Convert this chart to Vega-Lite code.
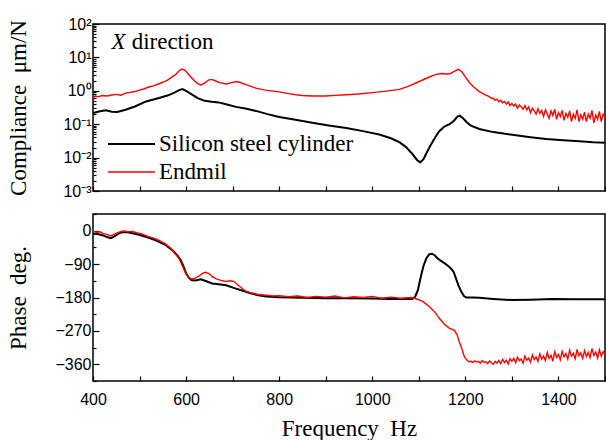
{
  "$schema": "https://vega.github.io/schema/vega-lite/v6.json",
  "padding": {"left": 6, "top": 15, "right": 0, "bottom": 0},
  "background": "white",
  "spacing": 12,
  "config": {
    "view": {"stroke": "black", "strokeWidth": 1.5},
    "axis": {"domain": false, "grid": false, "labelFlush": false, "labelFont": "Liberation Sans", "labelFontSize": 16, "labelColor": "black", "titleFont": "Liberation Serif", "titleFontSize": 23, "titleFontWeight": "normal", "titleColor": "black", "tickColor": "black", "tickWidth": 1.2},
    "legend": {"orient": "none", "legendX": 14, "legendY": 108, "symbolType": "stroke", "symbolSize": 2209, "symbolStrokeWidth": 2, "labelFont": "Liberation Serif", "labelFontSize": 23, "labelColor": "black", "labelLimit": 400, "labelOffset": 3, "clipHeight": 24, "rowPadding": 4, "padding": 0}
  },
  "datasets": {
    "mag": [
      {"f":400,"s":"Silicon steel cylinder","v":0.216},{"f":415,"s":"Silicon steel cylinder","v":0.245},{"f":428,"s":"Silicon steel cylinder","v":0.262},{"f":440,"s":"Silicon steel cylinder","v":0.235},{"f":452,"s":"Silicon steel cylinder","v":0.232},{"f":470,"s":"Silicon steel cylinder","v":0.27},{"f":490,"s":"Silicon steel cylinder","v":0.34},{"f":514,"s":"Silicon steel cylinder","v":0.48},{"f":540,"s":"Silicon steel cylinder","v":0.6},{"f":560,"s":"Silicon steel cylinder","v":0.72},{"f":575,"s":"Silicon steel cylinder","v":0.88},{"f":585,"s":"Silicon steel cylinder","v":1.05},{"f":592,"s":"Silicon steel cylinder","v":1.12},{"f":600,"s":"Silicon steel cylinder","v":1.0},{"f":612,"s":"Silicon steel cylinder","v":0.78},{"f":625,"s":"Silicon steel cylinder","v":0.6},{"f":640,"s":"Silicon steel cylinder","v":0.5},{"f":655,"s":"Silicon steel cylinder","v":0.47},{"f":670,"s":"Silicon steel cylinder","v":0.45},{"f":690,"s":"Silicon steel cylinder","v":0.38},{"f":707,"s":"Silicon steel cylinder","v":0.33},{"f":730,"s":"Silicon steel cylinder","v":0.29},{"f":750,"s":"Silicon steel cylinder","v":0.25},{"f":775,"s":"Silicon steel cylinder","v":0.2},{"f":800,"s":"Silicon steel cylinder","v":0.165},{"f":835,"s":"Silicon steel cylinder","v":0.135},{"f":871,"s":"Silicon steel cylinder","v":0.11},{"f":910,"s":"Silicon steel cylinder","v":0.09},{"f":944,"s":"Silicon steel cylinder","v":0.077},{"f":980,"s":"Silicon steel cylinder","v":0.062},{"f":1015,"s":"Silicon steel cylinder","v":0.049},{"f":1040,"s":"Silicon steel cylinder","v":0.038},{"f":1058,"s":"Silicon steel cylinder","v":0.029},{"f":1072,"s":"Silicon steel cylinder","v":0.021},{"f":1086,"s":"Silicon steel cylinder","v":0.013},{"f":1096,"s":"Silicon steel cylinder","v":0.0085},{"f":1103,"s":"Silicon steel cylinder","v":0.0072},{"f":1110,"s":"Silicon steel cylinder","v":0.009},{"f":1118,"s":"Silicon steel cylinder","v":0.015},{"f":1125,"s":"Silicon steel cylinder","v":0.023},{"f":1135,"s":"Silicon steel cylinder","v":0.04},{"f":1144,"s":"Silicon steel cylinder","v":0.062},{"f":1155,"s":"Silicon steel cylinder","v":0.085},{"f":1166,"s":"Silicon steel cylinder","v":0.1},{"f":1175,"s":"Silicon steel cylinder","v":0.125},{"f":1183,"s":"Silicon steel cylinder","v":0.17},{"f":1188,"s":"Silicon steel cylinder","v":0.18},{"f":1195,"s":"Silicon steel cylinder","v":0.15},{"f":1203,"s":"Silicon steel cylinder","v":0.115},{"f":1212,"s":"Silicon steel cylinder","v":0.09},{"f":1230,"s":"Silicon steel cylinder","v":0.072},{"f":1260,"s":"Silicon steel cylinder","v":0.058},{"f":1301,"s":"Silicon steel cylinder","v":0.048},{"f":1340,"s":"Silicon steel cylinder","v":0.041},{"f":1374,"s":"Silicon steel cylinder","v":0.036},{"f":1410,"s":"Silicon steel cylinder","v":0.033},{"f":1445,"s":"Silicon steel cylinder","v":0.031},{"f":1475,"s":"Silicon steel cylinder","v":0.029},{"f":1500,"s":"Silicon steel cylinder","v":0.028},
      {"f":400,"s":"Endmil","v":0.62},{"f":405,"s":"Endmil","v":0.7},{"f":410,"s":"Endmil","v":0.66},{"f":420,"s":"Endmil","v":0.72},{"f":430,"s":"Endmil","v":0.7},{"f":440,"s":"Endmil","v":0.75},{"f":450,"s":"Endmil","v":0.78},{"f":460,"s":"Endmil","v":0.74},{"f":470,"s":"Endmil","v":0.85},{"f":480,"s":"Endmil","v":0.9},{"f":490,"s":"Endmil","v":0.95},{"f":500,"s":"Endmil","v":1.05},{"f":510,"s":"Endmil","v":1.15},{"f":520,"s":"Endmil","v":1.3},{"f":530,"s":"Endmil","v":1.4},{"f":540,"s":"Endmil","v":1.6},{"f":550,"s":"Endmil","v":1.8},{"f":560,"s":"Endmil","v":2.1},{"f":570,"s":"Endmil","v":2.6},{"f":578,"s":"Endmil","v":3.1},{"f":585,"s":"Endmil","v":4.0},{"f":591,"s":"Endmil","v":4.5},{"f":597,"s":"Endmil","v":4.2},{"f":603,"s":"Endmil","v":3.4},{"f":610,"s":"Endmil","v":2.6},{"f":618,"s":"Endmil","v":2.0},{"f":625,"s":"Endmil","v":1.65},{"f":632,"s":"Endmil","v":1.5},{"f":640,"s":"Endmil","v":1.7},{"f":648,"s":"Endmil","v":2.1},{"f":655,"s":"Endmil","v":2.2},{"f":662,"s":"Endmil","v":2.0},{"f":672,"s":"Endmil","v":1.75},{"f":686,"s":"Endmil","v":1.6},{"f":698,"s":"Endmil","v":1.75},{"f":707,"s":"Endmil","v":1.9},{"f":715,"s":"Endmil","v":1.8},{"f":730,"s":"Endmil","v":1.5},{"f":750,"s":"Endmil","v":1.2},{"f":770,"s":"Endmil","v":1.05},{"f":800,"s":"Endmil","v":0.93},{"f":820,"s":"Endmil","v":0.82},{"f":836,"s":"Endmil","v":0.76},{"f":850,"s":"Endmil","v":0.72},{"f":871,"s":"Endmil","v":0.7},{"f":900,"s":"Endmil","v":0.7},{"f":920,"s":"Endmil","v":0.73},{"f":944,"s":"Endmil","v":0.76},{"f":970,"s":"Endmil","v":0.8},{"f":1000,"s":"Endmil","v":0.88},{"f":1030,"s":"Endmil","v":0.98},{"f":1058,"s":"Endmil","v":1.1},{"f":1080,"s":"Endmil","v":1.4},{"f":1101,"s":"Endmil","v":1.9},{"f":1120,"s":"Endmil","v":2.5},{"f":1137,"s":"Endmil","v":3.1},{"f":1150,"s":"Endmil","v":3.3},{"f":1160,"s":"Endmil","v":3.2},{"f":1168,"s":"Endmil","v":3.3},{"f":1176,"s":"Endmil","v":3.8},{"f":1185,"s":"Endmil","v":4.4},{"f":1192,"s":"Endmil","v":3.8},{"f":1200,"s":"Endmil","v":2.6},{"f":1209,"s":"Endmil","v":1.75},{"f":1218,"s":"Endmil","v":1.3},{"f":1230,"s":"Endmil","v":0.95},
      {"f":1240,"s":"Endmil","v":0.8},{"f":1244,"s":"Endmil","v":0.74},{"f":1248,"s":"Endmil","v":0.7},{"f":1252,"s":"Endmil","v":0.66},{"f":1256,"s":"Endmil","v":0.6},{"f":1260,"s":"Endmil","v":0.6},{"f":1264,"s":"Endmil","v":0.52},{"f":1268,"s":"Endmil","v":0.56},{"f":1272,"s":"Endmil","v":0.47},{"f":1276,"s":"Endmil","v":0.52},{"f":1280,"s":"Endmil","v":0.44},{"f":1284,"s":"Endmil","v":0.48},{"f":1288,"s":"Endmil","v":0.4},{"f":1292,"s":"Endmil","v":0.47},{"f":1296,"s":"Endmil","v":0.36},{"f":1300,"s":"Endmil","v":0.42},{"f":1304,"s":"Endmil","v":0.35},{"f":1308,"s":"Endmil","v":0.4},{"f":1312,"s":"Endmil","v":0.3},{"f":1316,"s":"Endmil","v":0.38},{"f":1320,"s":"Endmil","v":0.33},{"f":1324,"s":"Endmil","v":0.28},{"f":1328,"s":"Endmil","v":0.36},{"f":1332,"s":"Endmil","v":0.27},{"f":1336,"s":"Endmil","v":0.33},{"f":1340,"s":"Endmil","v":0.22},{"f":1344,"s":"Endmil","v":0.3},{"f":1348,"s":"Endmil","v":0.25},{"f":1352,"s":"Endmil","v":0.2},{"f":1356,"s":"Endmil","v":0.29},{"f":1360,"s":"Endmil","v":0.21},{"f":1364,"s":"Endmil","v":0.26},{"f":1368,"s":"Endmil","v":0.17},{"f":1372,"s":"Endmil","v":0.27},{"f":1376,"s":"Endmil","v":0.2},{"f":1380,"s":"Endmil","v":0.15},{"f":1384,"s":"Endmil","v":0.25},{"f":1388,"s":"Endmil","v":0.18},{"f":1392,"s":"Endmil","v":0.28},{"f":1396,"s":"Endmil","v":0.14},{"f":1400,"s":"Endmil","v":0.22},{"f":1404,"s":"Endmil","v":0.17},{"f":1408,"s":"Endmil","v":0.26},{"f":1412,"s":"Endmil","v":0.13},{"f":1416,"s":"Endmil","v":0.21},{"f":1420,"s":"Endmil","v":0.16},{"f":1424,"s":"Endmil","v":0.25},{"f":1428,"s":"Endmil","v":0.12},{"f":1432,"s":"Endmil","v":0.2},{"f":1436,"s":"Endmil","v":0.15},{"f":1440,"s":"Endmil","v":0.27},{"f":1444,"s":"Endmil","v":0.12},{"f":1448,"s":"Endmil","v":0.19},{"f":1452,"s":"Endmil","v":0.14},{"f":1456,"s":"Endmil","v":0.23},{"f":1460,"s":"Endmil","v":0.12},{"f":1464,"s":"Endmil","v":0.2},{"f":1468,"s":"Endmil","v":0.15},{"f":1472,"s":"Endmil","v":0.26},{"f":1476,"s":"Endmil","v":0.11},{"f":1480,"s":"Endmil","v":0.19},{"f":1484,"s":"Endmil","v":0.14},{"f":1488,"s":"Endmil","v":0.24},{"f":1492,"s":"Endmil","v":0.12},{"f":1496,"s":"Endmil","v":0.2},{"f":1500,"s":"Endmil","v":0.16}
    ],
    "phase": [
      {"f":400,"s":"Silicon steel cylinder","v":-8},{"f":410,"s":"Silicon steel cylinder","v":-9},{"f":420,"s":"Silicon steel cylinder","v":-12},{"f":430,"s":"Silicon steel cylinder","v":-17},{"f":438,"s":"Silicon steel cylinder","v":-20},{"f":445,"s":"Silicon steel cylinder","v":-16},{"f":455,"s":"Silicon steel cylinder","v":-8},{"f":463,"s":"Silicon steel cylinder","v":-4},{"f":475,"s":"Silicon steel cylinder","v":-4},{"f":490,"s":"Silicon steel cylinder","v":-8},{"f":499,"s":"Silicon steel cylinder","v":-11},{"f":515,"s":"Silicon steel cylinder","v":-17},{"f":535,"s":"Silicon steel cylinder","v":-26},{"f":555,"s":"Silicon steel cylinder","v":-38},{"f":571,"s":"Silicon steel cylinder","v":-53},{"f":582,"s":"Silicon steel cylinder","v":-68},{"f":589,"s":"Silicon steel cylinder","v":-80},{"f":595,"s":"Silicon steel cylinder","v":-98},{"f":600,"s":"Silicon steel cylinder","v":-115},{"f":605,"s":"Silicon steel cylinder","v":-125},{"f":611,"s":"Silicon steel cylinder","v":-133},{"f":620,"s":"Silicon steel cylinder","v":-134},{"f":632,"s":"Silicon steel cylinder","v":-131},{"f":645,"s":"Silicon steel cylinder","v":-137},{"f":656,"s":"Silicon steel cylinder","v":-142},{"f":670,"s":"Silicon steel cylinder","v":-144},{"f":686,"s":"Silicon steel cylinder","v":-147},{"f":707,"s":"Silicon steel cylinder","v":-156},{"f":720,"s":"Silicon steel cylinder","v":-161},{"f":735,"s":"Silicon steel cylinder","v":-167},{"f":755,"s":"Silicon steel cylinder","v":-174},{"f":772,"s":"Silicon steel cylinder","v":-177},{"f":800,"s":"Silicon steel cylinder","v":-179},{"f":850,"s":"Silicon steel cylinder","v":-181},{"f":900,"s":"Silicon steel cylinder","v":-182},{"f":950,"s":"Silicon steel cylinder","v":-182},{"f":1000,"s":"Silicon steel cylinder","v":-183},{"f":1037,"s":"Silicon steel cylinder","v":-184},{"f":1070,"s":"Silicon steel cylinder","v":-184},{"f":1086,"s":"Silicon steel cylinder","v":-184},{"f":1092,"s":"Silicon steel cylinder","v":-178},{"f":1098,"s":"Silicon steel cylinder","v":-160},{"f":1105,"s":"Silicon steel cylinder","v":-120},{"f":1110,"s":"Silicon steel cylinder","v":-95},{"f":1116,"s":"Silicon steel cylinder","v":-75},{"f":1122,"s":"Silicon steel cylinder","v":-64},{"f":1128,"s":"Silicon steel cylinder","v":-62},{"f":1134,"s":"Silicon steel cylinder","v":-66},{"f":1140,"s":"Silicon steel cylinder","v":-74},{"f":1146,"s":"Silicon steel cylinder","v":-80},{"f":1151,"s":"Silicon steel cylinder","v":-84},{"f":1158,"s":"Silicon steel cylinder","v":-90},{"f":1165,"s":"Silicon steel cylinder","v":-97},{"f":1170,"s":"Silicon steel cylinder","v":-103},{"f":1175,"s":"Silicon steel cylinder","v":-112},{"f":1180,"s":"Silicon steel cylinder","v":-129},{"f":1185,"s":"Silicon steel cylinder","v":-147},{"f":1191,"s":"Silicon steel cylinder","v":-164},{"f":1197,"s":"Silicon steel cylinder","v":-176},{"f":1202,"s":"Silicon steel cylinder","v":-180},{"f":1215,"s":"Silicon steel cylinder","v":-180},{"f":1230,"s":"Silicon steel cylinder","v":-181},{"f":1260,"s":"Silicon steel cylinder","v":-184},{"f":1301,"s":"Silicon steel cylinder","v":-187},{"f":1340,"s":"Silicon steel cylinder","v":-186},{"f":1387,"s":"Silicon steel cylinder","v":-184},{"f":1440,"s":"Silicon steel cylinder","v":-185},{"f":1500,"s":"Silicon steel cylinder","v":-185},
      {"f":400,"s":"Endmil","v":-2},{"f":408,"s":"Endmil","v":-4},{"f":415,"s":"Endmil","v":-3},{"f":422,"s":"Endmil","v":-8},{"f":430,"s":"Endmil","v":-10},{"f":438,"s":"Endmil","v":-14},{"f":445,"s":"Endmil","v":-10},{"f":452,"s":"Endmil","v":-6},{"f":460,"s":"Endmil","v":-2},{"f":468,"s":"Endmil","v":-1},{"f":475,"s":"Endmil","v":-3},{"f":485,"s":"Endmil","v":-2},{"f":495,"s":"Endmil","v":-6},{"f":505,"s":"Endmil","v":-9},{"f":515,"s":"Endmil","v":-14},{"f":525,"s":"Endmil","v":-18},{"f":535,"s":"Endmil","v":-22},{"f":545,"s":"Endmil","v":-28},{"f":555,"s":"Endmil","v":-35},{"f":565,"s":"Endmil","v":-45},{"f":575,"s":"Endmil","v":-60},{"f":585,"s":"Endmil","v":-75},{"f":592,"s":"Endmil","v":-95},{"f":598,"s":"Endmil","v":-112},{"f":604,"s":"Endmil","v":-124},{"f":611,"s":"Endmil","v":-130},{"f":620,"s":"Endmil","v":-128},{"f":628,"s":"Endmil","v":-122},{"f":635,"s":"Endmil","v":-115},{"f":642,"s":"Endmil","v":-112},{"f":650,"s":"Endmil","v":-116},{"f":656,"s":"Endmil","v":-124},{"f":665,"s":"Endmil","v":-130},{"f":675,"s":"Endmil","v":-134},{"f":686,"s":"Endmil","v":-137},{"f":696,"s":"Endmil","v":-135},{"f":703,"s":"Endmil","v":-137},{"f":710,"s":"Endmil","v":-145},{"f":720,"s":"Endmil","v":-155},{"f":728,"s":"Endmil","v":-163},{"f":740,"s":"Endmil","v":-168},{"f":755,"s":"Endmil","v":-172},{"f":772,"s":"Endmil","v":-174},{"f":790,"s":"Endmil","v":-176},{"f":800,"s":"Endmil","v":-175},{"f":820,"s":"Endmil","v":-178},{"f":840,"s":"Endmil","v":-176},{"f":860,"s":"Endmil","v":-180},{"f":880,"s":"Endmil","v":-177},{"f":900,"s":"Endmil","v":-179},{"f":920,"s":"Endmil","v":-176},{"f":940,"s":"Endmil","v":-181},{"f":960,"s":"Endmil","v":-178},{"f":980,"s":"Endmil","v":-180},{"f":1000,"s":"Endmil","v":-177},{"f":1020,"s":"Endmil","v":-182},{"f":1040,"s":"Endmil","v":-179},{"f":1060,"s":"Endmil","v":-182},{"f":1086,"s":"Endmil","v":-180},{"f":1100,"s":"Endmil","v":-186},{"f":1110,"s":"Endmil","v":-192},{"f":1123,"s":"Endmil","v":-205},{"f":1135,"s":"Endmil","v":-220},{"f":1144,"s":"Endmil","v":-236},{"f":1155,"s":"Endmil","v":-252},{"f":1166,"s":"Endmil","v":-263},{"f":1176,"s":"Endmil","v":-268},{"f":1182,"s":"Endmil","v":-280},{"f":1187,"s":"Endmil","v":-299},{"f":1193,"s":"Endmil","v":-320},{"f":1198,"s":"Endmil","v":-340},{"f":1204,"s":"Endmil","v":-350},{"f":1208,"s":"Endmil","v":-353},
      {"f":1212,"s":"Endmil","v":-352},{"f":1216,"s":"Endmil","v":-355},{"f":1220,"s":"Endmil","v":-351},{"f":1224,"s":"Endmil","v":-354},{"f":1228,"s":"Endmil","v":-352},{"f":1232,"s":"Endmil","v":-357},{"f":1236,"s":"Endmil","v":-350},{"f":1240,"s":"Endmil","v":-355},{"f":1244,"s":"Endmil","v":-353},{"f":1248,"s":"Endmil","v":-358},{"f":1252,"s":"Endmil","v":-351},{"f":1256,"s":"Endmil","v":-356},{"f":1260,"s":"Endmil","v":-360},{"f":1264,"s":"Endmil","v":-352},{"f":1268,"s":"Endmil","v":-357},{"f":1272,"s":"Endmil","v":-350},{"f":1276,"s":"Endmil","v":-358},{"f":1280,"s":"Endmil","v":-347},{"f":1284,"s":"Endmil","v":-355},{"f":1288,"s":"Endmil","v":-349},{"f":1292,"s":"Endmil","v":-359},{"f":1296,"s":"Endmil","v":-345},{"f":1300,"s":"Endmil","v":-352},{"f":1304,"s":"Endmil","v":-344},{"f":1308,"s":"Endmil","v":-356},{"f":1312,"s":"Endmil","v":-341},{"f":1316,"s":"Endmil","v":-350},{"f":1320,"s":"Endmil","v":-346},{"f":1324,"s":"Endmil","v":-357},{"f":1328,"s":"Endmil","v":-338},{"f":1332,"s":"Endmil","v":-349},{"f":1336,"s":"Endmil","v":-343},{"f":1340,"s":"Endmil","v":-354},{"f":1344,"s":"Endmil","v":-335},{"f":1348,"s":"Endmil","v":-347},{"f":1352,"s":"Endmil","v":-340},{"f":1356,"s":"Endmil","v":-352},{"f":1360,"s":"Endmil","v":-332},{"f":1364,"s":"Endmil","v":-346},{"f":1368,"s":"Endmil","v":-338},{"f":1372,"s":"Endmil","v":-350},{"f":1376,"s":"Endmil","v":-328},{"f":1380,"s":"Endmil","v":-344},{"f":1384,"s":"Endmil","v":-336},{"f":1388,"s":"Endmil","v":-352},{"f":1392,"s":"Endmil","v":-326},{"f":1396,"s":"Endmil","v":-341},{"f":1400,"s":"Endmil","v":-333},{"f":1404,"s":"Endmil","v":-348},{"f":1408,"s":"Endmil","v":-325},{"f":1412,"s":"Endmil","v":-340},{"f":1416,"s":"Endmil","v":-331},{"f":1420,"s":"Endmil","v":-346},{"f":1424,"s":"Endmil","v":-322},{"f":1428,"s":"Endmil","v":-338},{"f":1432,"s":"Endmil","v":-330},{"f":1436,"s":"Endmil","v":-345},{"f":1440,"s":"Endmil","v":-320},{"f":1444,"s":"Endmil","v":-337},{"f":1448,"s":"Endmil","v":-329},{"f":1452,"s":"Endmil","v":-344},{"f":1456,"s":"Endmil","v":-323},{"f":1460,"s":"Endmil","v":-339},{"f":1464,"s":"Endmil","v":-328},{"f":1468,"s":"Endmil","v":-342},{"f":1472,"s":"Endmil","v":-318},{"f":1476,"s":"Endmil","v":-336},{"f":1480,"s":"Endmil","v":-327},{"f":1484,"s":"Endmil","v":-343},{"f":1488,"s":"Endmil","v":-321},{"f":1492,"s":"Endmil","v":-338},{"f":1496,"s":"Endmil","v":-326},{"f":1500,"s":"Endmil","v":-333}
    ],
    "noteX": [{"t":"X","f":440,"v":17.5}],
    "noteDir": [{"t":"direction","f":483,"v":17.5}]
  },
  "vconcat": [
    {
      "width": 512, "height": 167,
      "layer": [
        {
          "data": {"name": "mag"},
          "mark": {"type": "line", "clip": true},
          "encoding": {
            "x": {"field": "f", "type": "quantitative", "scale": {"domain": [400, 1500], "nice": false, "zero": false},
                  "axis": {"values": [400,500,600,700,800,900,1000,1100,1200,1300,1400,1500], "labels": false, "tickSize": -5, "title": null}},
            "y": {"field": "v", "type": "quantitative", "scale": {"type": "log", "domain": [0.001, 100], "nice": false},
                  "axis": {"values": [0.001,0.002,0.003,0.004,0.005,0.006,0.007,0.008,0.009,0.01,0.02,0.03,0.04,0.05,0.06,0.07,0.08,0.09,0.1,0.2,0.3,0.4,0.5,0.6,0.7,0.8,0.9,1,2,3,4,5,6,7,8,9,10,20,30,40,50,60,70,80,90,100],
                           "tickSize": {"condition": {"test": "abs(log(datum.value)/LN10 - round(log(datum.value)/LN10)) < 0.000001", "value": -6}, "value": -3},
                           "labelExpr": "datum.value == 100 ? '10²' : datum.value == 10 ? '10¹' : datum.value == 1 ? '10⁰' : datum.value == 0.1 ? '10⁻¹' : datum.value == 0.01 ? '10⁻²' : datum.value == 0.001 ? '10⁻³' : ''",
                           "labelPadding": 8,
                           "title": "Compliance\u00a0\u00a0μm/N", "titleAngle": -90, "titleX": -68, "titleY": 83.5, "titleAlign": "center", "titleBaseline": "alphabetic"}},
            "color": {"field": "s", "type": "nominal", "scale": {"domain": ["Silicon steel cylinder", "Endmil"], "range": ["#000000", "#ff0000"]}, "legend": {"title": null}},
            "strokeWidth": {"field": "s", "type": "nominal", "scale": {"domain": ["Silicon steel cylinder", "Endmil"], "range": [2, 1.4]}, "legend": null}
          }
        },
        {
          "data": {"name": "noteX"},
          "mark": {"type": "text", "font": "Liberation Serif", "fontSize": 23, "fontStyle": "italic", "align": "left", "baseline": "alphabetic", "color": "black"},
          "encoding": {
            "x": {"field": "f", "type": "quantitative"},
            "y": {"field": "v", "type": "quantitative"},
            "text": {"field": "t"}
          }
        },
        {
          "data": {"name": "noteDir"},
          "mark": {"type": "text", "font": "Liberation Serif", "fontSize": 23, "align": "left", "baseline": "alphabetic", "color": "black"},
          "encoding": {
            "x": {"field": "f", "type": "quantitative"},
            "y": {"field": "v", "type": "quantitative"},
            "text": {"field": "t"}
          }
        }
      ]
    },
    {
      "width": 512, "height": 167,
      "data": {"name": "phase"},
      "mark": {"type": "line", "clip": true},
      "encoding": {
        "x": {"field": "f", "type": "quantitative", "scale": {"domain": [400, 1500], "nice": false, "zero": false},
              "axis": {"values": [400,500,600,700,800,900,1000,1100,1200,1300,1400,1500], "tickSize": -5, "labelExpr": "datum.value % 200 == 0 ? format(datum.value, 'd') : ''", "labelPadding": 15,
                       "title": "Frequency\u00a0\u00a0Hz", "titleY": 54, "titleBaseline": "alphabetic"}},
        "y": {"field": "v", "type": "quantitative", "scale": {"domain": [-405, 45], "nice": false, "zero": false},
              "axis": {"values": [-405,-360,-315,-270,-225,-180,-135,-90,-45,0,45],
                       "tickSize": {"condition": {"test": "datum.value % 90 == 0", "value": -6}, "value": -3},
                       "labelExpr": "datum.value % 90 == 0 ? format(datum.value, 'd') : ''",
                       "labelPadding": 8,
                       "title": "Phase\u00a0\u00a0deg.", "titleAngle": -90, "titleX": -68, "titleY": 83.5, "titleAlign": "center", "titleBaseline": "alphabetic"}},
        "color": {"field": "s", "type": "nominal", "scale": {"domain": ["Silicon steel cylinder", "Endmil"], "range": ["#000000", "#ff0000"]}, "legend": {"title": null}},
        "strokeWidth": {"field": "s", "type": "nominal", "scale": {"domain": ["Silicon steel cylinder", "Endmil"], "range": [2, 1.4]}, "legend": null}
      }
    }
  ]
}
